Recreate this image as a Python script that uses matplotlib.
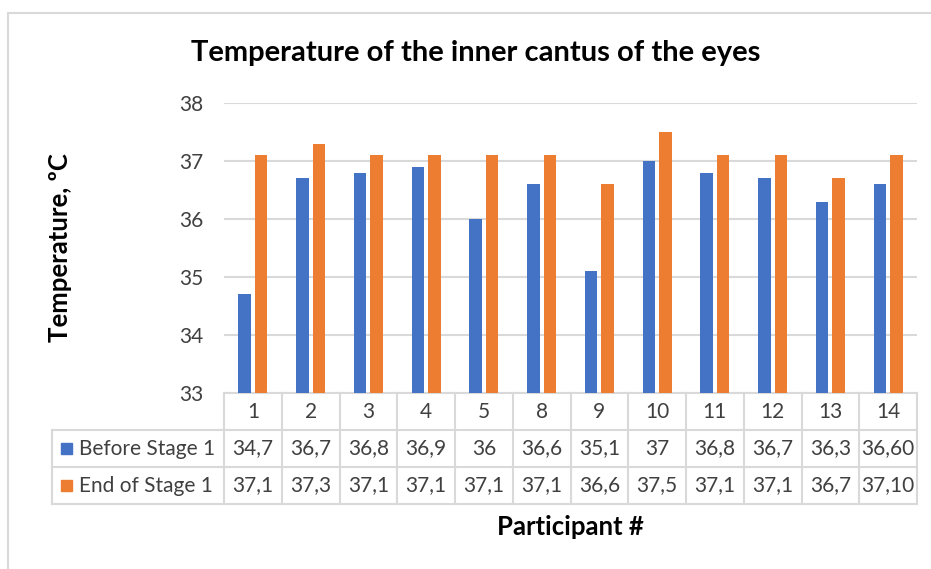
import numpy as np
import matplotlib.pyplot as plt
from matplotlib.patches import Rectangle

plt.rcParams['font.family'] = ['Lato', 'DejaVu Sans']

# data
participants = ['1', '2', '3', '4', '5', '8', '9', '10', '11', '12', '13', '14']
before = [34.7, 36.7, 36.8, 36.9, 36.0, 36.6, 35.1, 37.0, 36.8, 36.7, 36.3, 36.6]
end = [37.1, 37.3, 37.1, 37.1, 37.1, 37.1, 36.6, 37.5, 37.1, 37.1, 36.7, 37.1]
before_txt = ['34,7', '36,7', '36,8', '36,9', '36', '36,6', '35,1', '37', '36,8', '36,7', '36,3', '36,60']
end_txt = ['37,1', '37,3', '37,1', '37,1', '37,1', '37,1', '36,6', '37,5', '37,1', '37,1', '36,7', '37,10']
series_names = ['Before Stage 1', 'End of Stage 1']

blue = '#4472C4'
orange = '#ED7D31'
grid_c = '#D9D9D9'
txt_c = '#404040'

W, H = 931, 569
fig = plt.figure(figsize=(W / 100, H / 100), dpi=100)

# outer chart border (cropped on right/bottom)
fig.patches.append(Rectangle((8 / W, -0.1), 1.2, 1 - 13 / H + 0.1, transform=fig.transFigure,
                             fill=False, edgecolor=grid_c, linewidth=1.5))

x0, x1 = 224, 917
y_top, y_bot = 103, 393
ax = fig.add_axes([x0 / W, 1 - y_bot / H, (x1 - x0) / W, (y_bot - y_top) / H])

x = np.arange(len(participants))
bw = 0.22
off = 0.143
ax.bar(x - off, np.array(before) - 33, bottom=33, width=bw, color=blue, zorder=3)
ax.bar(x + off, np.array(end) - 33, bottom=33, width=bw, color=orange, zorder=3)

ax.set_xlim(-0.5, len(participants) - 0.5)
ax.set_ylim(33, 38)
ax.set_yticks(range(33, 39))
ax.tick_params(axis='y', length=0, pad=15, labelsize=15, labelcolor=txt_c)
ax.set_xticks([])
ax.yaxis.grid(True, color=grid_c, linewidth=1.5, zorder=0)
for s in ['top', 'right', 'left']:
    ax.spines[s].set_visible(False)
ax.spines['bottom'].set_color(grid_c)
ax.spines['bottom'].set_linewidth(1.5)

# overlay in pixel coordinates for title, labels and table
tab = fig.add_axes([0, 0, 1, 1], facecolor='none')
tab.set_xlim(0, W)
tab.set_ylim(H, 0)
tab.axis('off')

tab.text(476, 53, 'Temperature of the inner cantus of the eyes', ha='center', va='center',
         fontsize=21, fontweight='bold', color='black')
tab.text(60, 248, 'Temperature, ºC', ha='center', va='center', rotation=90,
         fontsize=18.5, fontweight='bold', color='black')

rows_y = [393, 430, 467, 504]
colw = (x1 - x0) / len(participants)
left_tab = 52
lc = dict(color=grid_c, linewidth=1.5)

# horizontal lines
for yy in rows_y[1:]:
    tab.plot([left_tab, x1], [yy, yy], **lc)
# vertical lines
tab.plot([left_tab, left_tab], [rows_y[1], rows_y[3]], **lc)
for i in range(len(participants) + 1):
    xv = x0 + i * colw
    tab.plot([xv, xv], [rows_y[0], rows_y[3]], **lc)

fs = 15
for i, p in enumerate(participants):
    cx = x0 + (i + 0.5) * colw
    tab.text(cx, (rows_y[0] + rows_y[1]) / 2, p, ha='center', va='center', fontsize=fs, color=txt_c)
    tab.text(cx, (rows_y[1] + rows_y[2]) / 2, before_txt[i], ha='center', va='center', fontsize=fs, color=txt_c)
    tab.text(cx, (rows_y[2] + rows_y[3]) / 2, end_txt[i], ha='center', va='center', fontsize=fs, color=txt_c)

for r, (name, col) in enumerate(zip(series_names, [blue, orange])):
    cy = (rows_y[r + 1] + rows_y[r + 2]) / 2
    tab.add_patch(Rectangle((61, cy - 5.5), 11, 11, color=col))
    tab.text(79, cy, name, ha='left', va='center', fontsize=fs, color=txt_c)

tab.text((x0 + x1) / 2, 527, 'Participant #', ha='center', va='center', fontsize=18.5,
         fontweight='bold', color='black')

fig.savefig('out.png', dpi=100)
